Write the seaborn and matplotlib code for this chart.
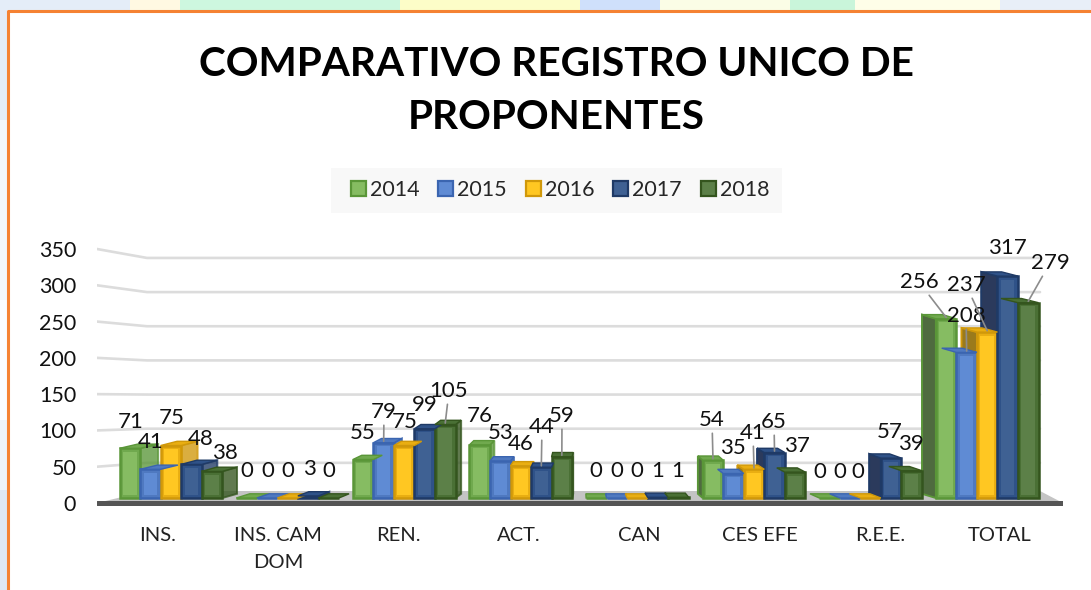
import matplotlib
matplotlib.use('Agg')
import matplotlib.pyplot as plt
import matplotlib.patches as mpatches
import pandas as pd
import seaborn as sns

# Values
categories = ['INS.', 'INS. CAM\nDOM', 'REN.', 'ACT.', 'CAN', 'CES EFE', 'R.E.E.', 'TOTAL']
v2014 = [71, 0, 55, 76, 0, 54, 0, 256]
v2015 = [41, 0, 79, 53, 0, 35, 0, 208]
v2016 = [75, 0, 75, 46, 0, 41, 0, 237]
v2017 = [48, 3, 99, 44, 1, 65, 57, 317]
v2018 = [38, 0, 105, 59, 1, 37, 39, 279]
years = ['2014', '2015', '2016', '2017', '2018']
y_ticks = [0, 50, 100, 150, 200, 250, 300, 350]

colors = ['#70A94E', '#4F79C0', '#E9AE12', '#2F5288', '#4A7035']
inner = ['#86BC62', '#5F8BD4', '#FFC722', '#3F6193', '#5C8048']
edges = ['#5A9638', '#3B65B0', '#D0980A', '#1F3A66', '#34551E']
shades = ['#4F6B3F', '#3A5488', '#9A7A1C', '#2B3A5C', '#2C4420']

# pixel helpers, the chart was laid out by eye on the 1091x590 picture
W, H = 1091, 590
X0, PITCH = 171, 116.6
Y0, SCALE = 498, 0.70


def dx_to_data(px):
    return (px - X0) / PITCH


def py_to_data(py):
    return (Y0 - py) / SCALE


sns.set_theme(style='white')
plt.rcParams['font.family'] = ['Lato', 'DejaVu Sans']

data = pd.DataFrame({'cat': categories, '2014': v2014, '2015': v2015, '2016': v2016,
                     '2017': v2017, '2018': v2018})
long = data.melt(id_vars='cat', var_name='year', value_name='value')

fig = plt.figure(figsize=(W / 100, H / 100), dpi=100, facecolor='white')

# pale slide background showing around the frame
strips = [(0, 0, 130, 10, '#E4EDF8'), (130, 0, 50, 10, '#FFF9E2'), (180, 0, 220, 10, '#CDF7DF'),
          (400, 0, 180, 10, '#FDFDC8'), (580, 0, 80, 10, '#CFE0FB'), (660, 0, 130, 10, '#FBFDE6'),
          (790, 0, 65, 10, '#C9F5DA'), (855, 0, 145, 10, '#FEFEE8'), (1000, 0, 91, 10, '#E8EFF8'),
          (0, 10, 7, 110, '#E4ECF7'), (0, 120, 7, 180, '#F3F7FC'), (0, 300, 7, 120, '#FBFCFE'),
          (0, 420, 7, 70, '#EEF3FA'), (0, 490, 7, 100, '#DFE8F4')]
for sx, sy, sw, sh, c in strips:
    fig.add_artist(mpatches.Rectangle((sx / W, 1 - (sy + sh) / H), sw / W, sh / H,
                                      transform=fig.transFigure, fc=c, ec='none', zorder=-5))
fig.add_artist(plt.Line2D([8 / W, 8 / W, 1], [0, 1 - 11 / H, 1 - 11 / H], color='#F58233',
                          lw=2.2, transform=fig.transFigure, zorder=-4))
fig.add_artist(mpatches.Rectangle((331 / W, 1 - 213 / H), 451 / W, 45 / H,
                                  transform=fig.transFigure, fc='#F8F8F8', ec='none', zorder=-4))

ax = fig.add_axes([97 / W, 1 - 506 / H, 966 / W, 266 / H])
ax.patch.set_alpha(0)

sns.barplot(data=long, x='cat', y='value', hue='year', palette=colors, width=0.88, gap=0,
            saturation=1, ax=ax, zorder=3)

ax.set_xlim(dx_to_data(97), dx_to_data(1063))
ax.set_ylim(py_to_data(506), py_to_data(240))

# floor and back wall grid
vx = dx_to_data(590)
ax.fill([dx_to_data(97), dx_to_data(147), dx_to_data(1040), dx_to_data(1063)],
        [py_to_data(503), py_to_data(491), py_to_data(491), py_to_data(503)],
        color='#C4C4C4', zorder=1, lw=0)
ax.plot([dx_to_data(97), dx_to_data(1063)], [py_to_data(503)] * 2, color='#555555', lw=3.6,
        zorder=2, solid_capstyle='round')
tick_pos = []
for v in y_ticks:
    front = py_to_data(503 - v * 0.7257)
    back = py_to_data(497 - v * 0.683)
    tick_pos.append(front)
    if v > 0:
        ax.plot([dx_to_data(97), dx_to_data(147), dx_to_data(1040)], [front, back, back],
                color='#DCDCDC', lw=1.9, zorder=1)

# side and top faces give the bars their depth
for container, c, ic, e, s in zip(ax.containers, colors, inner, edges, shades):
    for bar in container:
        bar.set_edgecolor(e)
        bar.set_linewidth(1.8)
        l, r, h = bar.get_x(), bar.get_x() + bar.get_width(), bar.get_height()
        mid = (l + r) / 2
        dx = 0.039 * (vx - mid)
        dy = 6
        if h > 0:
            if dx > 0:
                side = [(r, 0), (r + dx, dy), (r + dx, h + dy), (r, h)]
                ax.add_patch(mpatches.Polygon(side, fc=e, ec=e, lw=1.4, alpha=0.78, zorder=2.9))
            else:
                side = [(l, 0), (l + dx, dy), (l + dx, h + dy), (l, h)]
                ax.add_patch(mpatches.Polygon(side, fc=s, ec=e, lw=1.4, zorder=2.9))
        if h > 12:
            ins_x, ins_y = 3.5 / PITCH, 3.5 / SCALE
            ax.add_patch(mpatches.Rectangle((l + ins_x, ins_y), r - l - 2 * ins_x, h - 2 * ins_y,
                                            fc=ic, ec='none', zorder=3.1))
        top = [(l, h), (r, h), (r + dx, h + dy), (l + dx, h + dy)]
        ax.add_patch(mpatches.Polygon(top, fc=c, ec=e, lw=1, zorder=3.2))

ax.set_xticks([dx_to_data(158 + 120.3 * i) for i in range(len(categories))])
ax.set_xticklabels(categories, fontsize=14.5, color='#222222', linespacing=1.7)
ax.set_yticks(tick_pos)
ax.set_yticklabels(y_ticks, fontsize=15.5, color='#111111')
ax.tick_params(axis='both', length=0)
ax.tick_params(axis='x', pad=15)
ax.tick_params(axis='y', pad=15)
ax.set_xlabel('')
ax.set_ylabel('')
sns.despine(ax=ax, left=True, bottom=True)

# data labels, placed where the reference has them (pixels, one row per year)
label_px = [
    [(131, 422), (247, 471), (363, 433), (480, 416), (596, 471), (712, 420), (820, 472), (919, 282)],
    [(151, 442), (268, 471), (384, 412), (501, 433), (617, 471), (733, 448), (840, 472), (966, 316)],
    [(172, 418), (288, 471), (405, 422), (521, 444), (637, 471), (753, 433), (858, 472), (966, 285)],
    [(201, 439), (309, 469), (425, 405), (542, 427), (658, 471), (774, 422), (890, 432), (1007, 248)],
    [(225, 453), (329, 471), (449, 391), (562, 416), (678, 471), (797, 446), (911, 444), (1050, 263)],
]
leaders = {(1, 2), (4, 2), (3, 3), (4, 3), (0, 5), (2, 5), (3, 5), (0, 7), (1, 7), (2, 7), (4, 7)}
for j, container in enumerate(ax.containers):
    for i, bar in enumerate(container):
        px, py = label_px[j][i]
        arrow = None
        if (j, i) in leaders:
            arrow = dict(arrowstyle='-', color='#8C8C8C', lw=1.2, shrinkA=0, shrinkB=0)
        ax.annotate(str(int(bar.get_height())),
                    xy=(bar.get_x() + bar.get_width() / 2, bar.get_height() + 2),
                    xytext=(px, H - py), textcoords='figure pixels',
                    ha='center', va='center', fontsize=16, color='#111111',
                    arrowprops=arrow, zorder=6)

# title and legend sit above the plot
fig.text(556 / W, 1 - 91 / H, 'COMPARATIVO REGISTRO UNICO DE\nPROPONENTES', ha='center', va='center',
         fontsize=29.2, fontweight='bold', color='black', linespacing=1.52)

handles = [mpatches.Patch(facecolor=ic, edgecolor=e, linewidth=1.6, label=y)
           for ic, e, y in zip(inner, edges, years)]
ax.legend(handles=handles, ncol=5, loc='center', bbox_to_anchor=(560 / W, 1 - 190 / H),
          bbox_transform=fig.transFigure, frameon=False, fontsize=15.5, handlelength=0.7,
          handleheight=0.7, handletextpad=0.18, columnspacing=0.88)

fig.savefig('out.png', dpi=100)
